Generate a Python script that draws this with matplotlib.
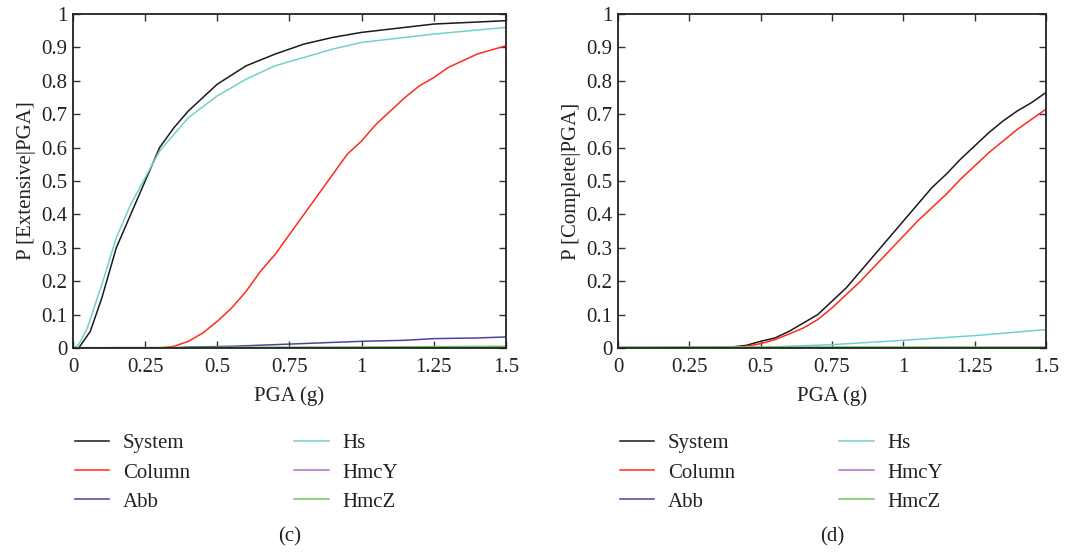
import numpy as np
import matplotlib
matplotlib.use("Agg")
from matplotlib import pyplot as plt

# (c) Extensive damage state
ext_x_sys = [0, 0.02, 0.06, 0.1, 0.15, 0.2, 0.25, 0.3, 0.35, 0.4, 0.5, 0.6, 0.7, 0.75, 0.8, 0.9, 1.0, 1.1, 1.25, 1.5]
ext_sys = [0, 0.0, 0.05, 0.15, 0.3, 0.4, 0.5, 0.6, 0.66, 0.71, 0.79, 0.845, 0.88, 0.895, 0.91, 0.93, 0.945, 0.955, 0.97, 0.98]
ext_x_hs = [0, 0.02, 0.05, 0.1, 0.15, 0.2, 0.25, 0.3, 0.4, 0.5, 0.6, 0.7, 0.8, 0.9, 1.0, 1.1, 1.25, 1.5]
ext_hs = [0, 0.01, 0.06, 0.19, 0.33, 0.43, 0.51, 0.59, 0.69, 0.755, 0.805, 0.845, 0.87, 0.895, 0.915, 0.925, 0.94, 0.96]
ext_x_col = [0, 0.3, 0.35, 0.4, 0.45, 0.5, 0.55, 0.6, 0.65, 0.7, 0.75, 0.8, 0.85, 0.9, 0.95, 1.0, 1.05,
             1.1, 1.15, 1.2, 1.25, 1.3, 1.35, 1.4, 1.5]
ext_col = [0, 0, 0.005, 0.02, 0.045, 0.08, 0.12, 0.17, 0.23, 0.28, 0.34, 0.40, 0.46, 0.52, 0.58, 0.62, 0.67,
           0.71, 0.75, 0.785, 0.81, 0.84, 0.86, 0.88, 0.905]
ext_x_abb = [0, 0.35, 0.4, 0.55, 0.7, 0.85, 1.0, 1.15, 1.25, 1.4, 1.5]
ext_abb = [0, 0, 0.003, 0.005, 0.01, 0.015, 0.02, 0.023, 0.028, 0.03, 0.033]
ext_x_small = [0, 0.5, 1.0, 1.5]
ext_hmcy = [0, 0, 0.0005, 0.001]
ext_hmcz = [0.001, 0.002, 0.003, 0.005]

# (d) Complete damage state
com_x_sys = [0, 0.4, 0.45, 0.5, 0.55, 0.6, 0.65, 0.7, 0.75, 0.8, 0.85, 0.9, 0.95, 1.0, 1.05,
             1.1, 1.15, 1.2, 1.25, 1.3, 1.35, 1.4, 1.45, 1.5]
com_sys = [0, 0.003, 0.008, 0.02, 0.03, 0.05, 0.075, 0.1, 0.14, 0.18, 0.23, 0.28, 0.33, 0.38, 0.43,
           0.48, 0.52, 0.565, 0.605, 0.645, 0.68, 0.71, 0.735, 0.765]
com_x_col = [0, 0.42, 0.45, 0.5, 0.55, 0.6, 0.65, 0.7, 0.75, 0.8, 0.85, 0.9, 0.95, 1.0, 1.05,
             1.1, 1.15, 1.2, 1.25, 1.3, 1.35, 1.4, 1.45, 1.5]
com_col = [0, 0.002, 0.005, 0.013, 0.025, 0.042, 0.06, 0.085, 0.12, 0.16, 0.2, 0.245, 0.29, 0.335, 0.38,
           0.42, 0.46, 0.505, 0.545, 0.585, 0.62, 0.655, 0.685, 0.715]
com_x_hs = [0, 0.5, 0.75, 1.0, 1.25, 1.5]
com_hs = [0.001, 0.002, 0.01, 0.023, 0.037, 0.055]
com_x_small = [0, 1.5]
com_abb = [0.001, 0.001]
com_hmcy = [0.0, 0.0]
com_hmcz = [0.002, 0.002]

labels = ["System", "Column", "Abb", "Hs", "HmcY", "HmcZ"]
colors = ["#1a1a1a", "#ff2a1a", "#4b449e", "#72d0cc", "#b46cc4", "#6cc25a"]

xticks = [0, 0.25, 0.5, 0.75, 1, 1.25, 1.5]
xticklabels = ["0", "0.25", "0.5", "0.75", "1", "1.25", "1.5"]
yticks = np.arange(0, 1.01, 0.1)
yticklabels = ["0", "0.1", "0.2", "0.3", "0.4", "0.5", "0.6", "0.7", "0.8", "0.9", "1"]

plt.rcParams['font.family'] = ['Liberation Serif', 'DejaVu Serif']
plt.rcParams['font.size'] = 15

fig = plt.figure(figsize=(10.75, 5.52), dpi=100)
ax1 = fig.add_axes([0.0679, 0.3696, 0.4028, 0.605])
ax2 = fig.add_axes([0.5749, 0.3696, 0.3981, 0.605])


def setup(ax, ylabel, caption, cx):
    ax.set_xlim(0, 1.5)
    ax.set_ylim(0, 1)
    ax.set_xticks(xticks)
    ax.set_xticklabels(xticklabels)
    ax.set_yticks(yticks)
    ax.set_yticklabels(yticklabels)
    ax.tick_params(direction='in', top=True, right=True, length=5, width=1, color='#333333',
                   labelcolor='#222222', labelsize=15)
    ax.tick_params(axis='x', pad=7)
    ax.tick_params(axis='y', pad=4)
    for s in ax.spines.values():
        s.set_linewidth(1.3)
        s.set_color('#222222')
    ax.set_xlabel("PGA (g)", fontsize=15, color='#222222', labelpad=7)
    ax.set_ylabel(ylabel, fontsize=15, color='#222222', labelpad=4)
    leg = ax.legend(loc='upper left', bbox_to_anchor=(cx, 0.248), bbox_transform=fig.transFigure,
                    ncol=2, frameon=False, fontsize=15, handlelength=1.65, handletextpad=0.67,
                    columnspacing=5.0, labelspacing=0.46)
    for t in leg.get_texts():
        t.set_color('#222222')
    fig.text((ax.get_position().x0 + ax.get_position().x1) / 2, 0.028, caption,
             ha='center', va='center', fontsize=15, color='#222222')


lw = 1.1
ax1.plot(ext_x_sys, ext_sys, color=colors[0], lw=lw, label=labels[0])
ax1.plot(ext_x_col, ext_col, color=colors[1], lw=lw, label=labels[1])
ax1.plot(ext_x_abb, ext_abb, color=colors[2], lw=lw, label=labels[2])
ax1.plot(ext_x_hs, ext_hs, color=colors[3], lw=lw, label=labels[3])
ax1.plot(ext_x_small, ext_hmcy, color=colors[4], lw=lw, label=labels[4])
ax1.plot(ext_x_small, ext_hmcz, color=colors[5], lw=lw, label=labels[5])
setup(ax1, "P [Extensive|PGA]", "(c)", 0.052)

ax2.plot(com_x_sys, com_sys, color=colors[0], lw=lw, label=labels[0])
ax2.plot(com_x_col, com_col, color=colors[1], lw=lw, label=labels[1])
ax2.plot(com_x_small, com_abb, color=colors[2], lw=lw, label=labels[2])
ax2.plot(com_x_hs, com_hs, color=colors[3], lw=lw, label=labels[3])
ax2.plot(com_x_small, com_hmcy, color=colors[4], lw=lw, label=labels[4])
ax2.plot(com_x_small, com_hmcz, color=colors[5], lw=lw, label=labels[5])
setup(ax2, "P [Complete|PGA]", "(d)", 0.559)

fig.savefig("out.png", dpi=100)
